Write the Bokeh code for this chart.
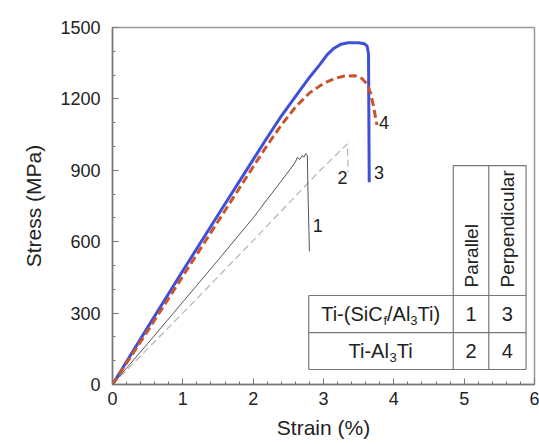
from bokeh.plotting import figure
from bokeh.models import SingleIntervalTicker, Range1d
from bokeh.core.properties import value
from bokeh.embed import file_html
from bokeh.resources import INLINE

# ---- data ----
strain_1 = [0, 0.5, 1.0, 1.5, 2.0, 2.2, 2.4, 2.54, 2.6, 2.63, 2.66, 2.70, 2.72, 2.75, 2.77, 2.78, 2.80]
stress_1 = [0, 172, 347, 522, 700, 778, 855, 910, 935, 955, 945, 962, 955, 970, 962, 800, 560]

strain_2 = [0, 1.0, 2.0, 2.92, 3.34, 3.35]
stress_2 = [0, 300, 605, 890, 1011, 890]

strain_3 = [0, 0.5, 1.0, 1.5, 2.0, 2.2, 2.4, 2.6, 2.8, 2.95, 3.05, 3.15, 3.25, 3.35, 3.5, 3.58, 3.62, 3.64, 3.65]
stress_3 = [0, 240, 478, 712, 945, 1038, 1128, 1210, 1290, 1345, 1385, 1413, 1430, 1436, 1436, 1432, 1422, 1390, 850]

strain_4 = [0, 0.5, 1.0, 1.5, 2.0, 2.2, 2.4, 2.6, 2.8, 3.0, 3.15, 3.3, 3.45, 3.55, 3.62, 3.67, 3.71, 3.76]
stress_4 = [0, 225, 455, 685, 915, 1005, 1090, 1165, 1225, 1265, 1285, 1296, 1297, 1285, 1262, 1225, 1170, 1090]

curve_labels = ["1", "2", "3", "4"]
curve_label_x = [2.92, 3.27, 3.79, 3.86]
curve_label_y = [668, 871, 892, 1100]

# table layout (data coordinates)
tab_x = [2.79, 4.845, 5.35, 5.88]
tab_y = [63, 218, 374, 920]
col_headers = ["Parallel", "Perpendicular"]
row_numbers = [["1", "3"], ["2", "4"]]

FONT = "Liberation Sans"

p = figure(width=539, height=444, x_range=Range1d(0, 6), y_range=Range1d(0, 1500),
           output_backend="svg", toolbar_location=None,
           min_border_left=112, min_border_right=5, min_border_top=27, min_border_bottom=60)
p.background_fill_color = "white"
p.border_fill_color = "white"
p.outline_line_color = "#999999"
p.outline_line_width = 1.5
p.xgrid.visible = False
p.ygrid.visible = False

p.xaxis.ticker = SingleIntervalTicker(interval=1, num_minor_ticks=5)
p.yaxis.ticker = SingleIntervalTicker(interval=300, num_minor_ticks=3)
for ax in (p.xaxis, p.yaxis):
    ax.axis_line_color = "#777777"
    ax.axis_line_width = 1.5
    ax.major_tick_line_color = "#777777"
    ax.minor_tick_line_color = "#777777"
    ax.major_tick_in = 6
    ax.major_tick_out = 0
    ax.minor_tick_in = 3
    ax.minor_tick_out = 0
    ax.major_label_text_font = FONT
    ax.major_label_text_font_size = "18px"
    ax.major_label_text_color = "#222222"
    ax.axis_label_text_font = FONT
    ax.axis_label_text_font_size = "21px"
    ax.axis_label_text_font_style = "normal"
    ax.axis_label_text_color = "#222222"
p.xaxis.axis_label = "Strain (%)"
p.yaxis.axis_label = "Stress (MPa)"
p.xaxis.major_label_standoff = 7
p.xaxis.axis_label_standoff = 8
p.yaxis.major_label_standoff = 12
p.yaxis.axis_label_standoff = 12

# curves
p.line(strain_2, stress_2, line_color="#b8b8b8", line_width=1.3, line_dash="7 4")
p.line(strain_1, stress_1, line_color="#555555", line_width=1.0)
p.line(strain_3, stress_3, line_color="#3f50d8", line_width=3)
p.line(strain_4, stress_4, line_color="#c8552c", line_width=3, line_dash="8 4")

p.text(curve_label_x, curve_label_y, text=curve_labels, text_font=value(FONT),
       text_font_size="18px", text_color="#222222", text_align="center", text_baseline="middle")

# table grid
x0, x1, x2, x3 = tab_x
y0, y1, y2, y3 = tab_y
p.segment(x0=[x1, x0, x0, x0], y0=[y3, y2, y1, y0], x1=[x3, x3, x3, x3], y1=[y3, y2, y1, y0],
          line_color="#777777", line_width=1.2)
p.segment(x0=[x0, x1, x2, x3], y0=[y0, y0, y0, y0], x1=[x0, x1, x2, x3], y1=[y2, y3, y3, y3],
          line_color="#777777", line_width=1.2)

TF = "20px"
SF = "13px"
c1 = (x0 + x1) / 2
c2 = (x1 + x2) / 2
c3 = (x2 + x3) / 2
r1 = (y1 + y2) / 2
r2 = (y0 + y1) / 2

# column headers, rotated
p.text([c2, c3], [y2, y2], text=col_headers, angle=1.5708, y_offset=-8,
       text_font=value(FONT), text_font_size="19px", text_color="#222222",
       text_align="left", text_baseline="middle")

# numbers
p.text([c2, c3, c2, c3], [r1, r1, r2, r2],
       text=[row_numbers[0][0], row_numbers[0][1], row_numbers[1][0], row_numbers[1][1]],
       text_font=value(FONT), text_font_size=TF, text_color="#222222",
       text_align="center", text_baseline="middle")

def piece(x, y, s, off, sub=False):
    p.text([x], [y], text=[s], x_offset=off, y_offset=6 if sub else 0,
           text_font=value(FONT), text_font_size=SF if sub else TF, text_color="#222222",
           text_align="left", text_baseline="middle")

# row 1 label: Ti-(SiC_f/Al_3Ti)
piece(c1, r1, "Ti-(SiC", -59.8)
piece(c1, r1, "f", 2.4, sub=True)
piece(c1, r1, "/Al", 6.0)
piece(c1, r1, "3", 29.3, sub=True)
piece(c1, r1, "Ti)", 36.5)

# row 2 label: Ti-Al_3Ti
piece(c1, r2, "Ti-Al", -32.5)
piece(c1, r2, "3", 8.6, sub=True)
piece(c1, r2, "Ti", 15.8)

open("out.html", "w").write(file_html(p, INLINE))
